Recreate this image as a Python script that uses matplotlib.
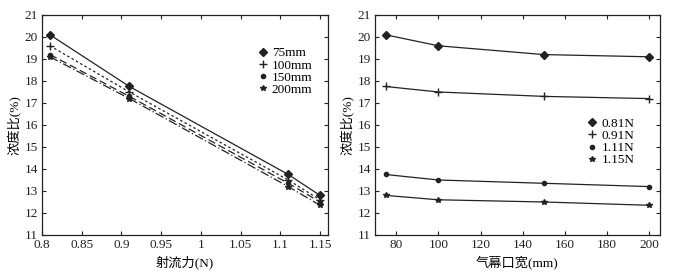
import numpy as np
import matplotlib
matplotlib.use('Agg')
import matplotlib.pyplot as plt

plt.rcParams['font.family'] = ['Liberation Serif', 'Noto Sans CJK SC']
plt.rcParams['font.size'] = 9

# --- data ---
force = [0.81, 0.91, 1.11, 1.15]          # jet force (N)
width = [75, 100, 150, 200]               # curtain width (mm)
width_labels = ['75mm', '100mm', '150mm', '200mm']
force_labels = ['0.81N', '0.91N', '1.11N', '1.15N']

# concentration ratio (%) rows: width, cols: force
ratio = np.array([
    [20.1, 17.75, 13.75, 12.8],
    [19.6, 17.5, 13.5, 12.6],
    [19.2, 17.3, 13.35, 12.5],
    [19.1, 17.2, 13.2, 12.35],
])

markers = ['D', '+', 'o', '*']
msizes = [4, 6, 3, 4]
styles = ['-', (0, (2, 2)), (0, (6, 3)), (0, (7, 2, 1, 2))]
ink = '#222222'

fig = plt.figure(figsize=(6.74, 2.75), dpi=100)
ax1 = fig.add_axes([0.0623, 0.1455, 0.4243, 0.80])
ax2 = fig.add_axes([0.5564, 0.1455, 0.4228, 0.80])

# --- left: ratio vs force ---
for i in range(4):
    ax1.plot(force, ratio[i], color=ink, lw=0.9, ls=styles[i])
    ax1.plot(force, ratio[i], ls='none', marker=markers[i], ms=msizes[i],
             color=ink, mew=1.0, label=width_labels[i])
ax1.set_xlim(0.8, 1.16)
ax1.set_xticks([0.8, 0.85, 0.9, 0.95, 1, 1.05, 1.1, 1.15])
ax1.set_xticklabels(['0.8', '0.85', '0.9', '0.95', '1', '1.05', '1.1', '1.15'])
ax1.set_xlabel('射流力(N)', labelpad=3, fontsize=9.5)
ax1.set_ylabel('浓度比(%)', labelpad=2, fontsize=9.5)
ax1.legend(loc='upper left', bbox_to_anchor=(0.73, 0.89), frameon=False,
           handlelength=0.6, handletextpad=0.4, labelspacing=0.0,
           borderpad=0.1, fontsize=9.5)

# --- right: ratio vs width ---
for j in range(4):
    ax2.plot(width, ratio[:, j], color=ink, lw=0.9,
             marker=markers[j], ms=msizes[j], mew=1.0, label=force_labels[j])
ax2.set_xlim(70, 205)
ax2.set_xticks([80, 100, 120, 140, 160, 180, 200])
ax2.set_xlabel('气幕口宽(mm)', labelpad=3, fontsize=9.5)
ax2.set_ylabel('浓度比(%)', labelpad=2, fontsize=9.5)
leg = ax2.legend(loc='upper left', bbox_to_anchor=(0.72, 0.57), frameon=False,
                 handlelength=0.6, handletextpad=0.4, labelspacing=0.0,
                 borderpad=0.1, fontsize=9.5)
for line in leg.get_lines():
    line.set_linestyle('none')

for ax in (ax1, ax2):
    ax.set_ylim(11, 21)
    ax.set_yticks(range(11, 22))
    ax.tick_params(direction='in', top=True, right=True, length=3,
                   width=0.8, labelsize=9.5, pad=3, colors=ink)
    for s in ax.spines.values():
        s.set_linewidth(0.9)
        s.set_color(ink)

fig.savefig('out.png', dpi=100)
